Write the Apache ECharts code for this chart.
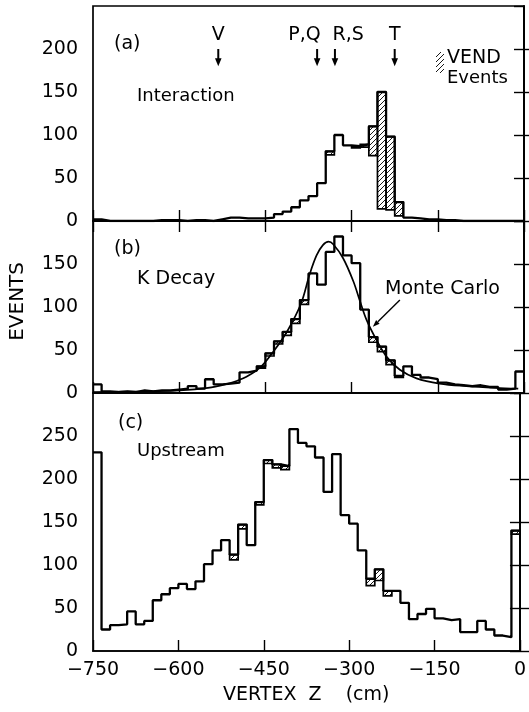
<!DOCTYPE html>
<html>
<head>
<meta charset="utf-8">
<script src="https://cdn.jsdelivr.net/npm/echarts@6/dist/echarts.min.js"></script>
<style>
  html, body { margin: 0; padding: 0; background: #fff; }
  #chart { width: 529px; height: 712px; }
</style>
</head>
<body>
<div id="chart"></div>
<script>
// Vertex-z histograms: 50 bins of 15 cm from -750 cm to 0 cm
const binStart = -750;
const binWidth = 15;

// (a) Interaction: all events and the VEND share stacked on top of each bin
const interactionTotal = [2, 0, 0, 0, 0, 0, 0, 1, 1, 1, 0, 1, 1, 0, 2, 4, 4, 3, 3, 3,
  4, 8, 11, 16, 24, 29, 44, 81, 100, 88, 87, 89, 110, 150, 98, 22, 4, 3, 2, 2,
  1, 1, 0, 0, 0, 0, 0, 0, 0, 0];
const interactionVend = [0, 0, 0, 0, 0, 0, 0, 0, 0, 0, 0, 0, 0, 0, 0, 0, 0, 0, 0, 0,
  0, 0, 0, 0, 0, 0, 0, 4, 0, 0, 2, 3, 34, 136, 85, 16, 0, 0, 0, 0,
  0, 0, 0, 0, 0, 0, 0, 0, 0, 0];

// (b) K decay
const kDecayTotal = [10, 2, 1, 2, 1, 3, 2, 3, 3, 4, 5, 8, 5, 16, 10, 11, 12, 24, 26, 31,
  46, 60, 71, 86, 108, 139, 126, 164, 182, 160, 151, 97, 65, 54, 38, 20, 31, 21, 18, 16,
  12, 10, 9, 8, 9, 7, 7, 4, 5, 25];
const kDecayVend = [0, 0, 0, 0, 0, 0, 0, 0, 0, 0, 0, 0, 0, 0, 0, 0, 0, 0, 0, 2,
  3, 3, 4, 5, 5, 0, 0, 0, 0, 0, 0, 0, 6, 6, 5, 2, 0, 0, 0, 0,
  0, 0, 0, 0, 0, 0, 0, 0, 0, 0];

// Monte Carlo expectation for K decay
const mcZ = [-750, -700, -650, -600, -550, -520, -500, -480, -457, -434, -411, -388, -373, -361,
  -350, -340, -332, -315, -297, -286, -274, -257, -239, -216, -187, -147, -100, -50, -10];
const mcN = [1, 1.5, 2, 3, 6, 10, 14, 20, 31, 50, 73, 104, 138, 160,
  172, 176, 173, 157, 130, 108, 85, 62, 42, 27, 17, 11, 8, 6, 5];

// (c) Upstream
const upstreamTotal = [231, 25, 30, 31, 46, 31, 35, 59, 66, 73, 78, 72, 81, 101, 117, 129, 112, 147, 123, 173,
  222, 217, 215, 258, 242, 238, 225, 185, 229, 158, 148, 117, 84, 95, 70, 70, 56, 37, 43, 49,
  38, 36, 37, 22, 22, 35, 25, 18, 16, 140];
const upstreamVend = [0, 0, 0, 0, 0, 0, 0, 0, 0, 0, 0, 0, 0, 0, 0, 0, 6, 5, 0, 3,
  4, 4, 4, 0, 0, 0, 0, 0, 0, 0, 0, 0, 8, 13, 6, 0, 0, 0, 0, 0,
  0, 0, 0, 0, 0, 0, 0, 0, 0, 4];

// Target positions marked in panel (a)
const markerNames = ['V', 'P,Q', 'R,S', 'T'];
const markerZ = [-532, -360, -329, -225];
const markerLabelZ = [-532, -382, -306, -225];

// Axis ranges / ticks
const zTicks = [-750, -600, -450, -300, -150, 0];
const panelMax = [250, 200, 300];
const countStep = 50;

const FONT = 'DejaVu Sans';

function makeHatch() {
  const c = document.createElement('canvas');
  c.width = 5; c.height = 5;
  const g = c.getContext('2d');
  g.strokeStyle = '#000';
  g.lineWidth = 0.9;
  g.beginPath();
  g.moveTo(0, 5); g.lineTo(5, 0);
  g.moveTo(-1, 1); g.lineTo(1, -1);
  g.moveTo(4, 6); g.lineTo(6, 4);
  g.stroke();
  return c;
}
const hatch = { image: makeHatch(), repeat: 'repeat' };

function stepData(totals) {
  const d = totals.map((v, i) => [binStart + i * binWidth, v]);
  d.push([binStart + totals.length * binWidth, totals[totals.length - 1]]);
  return d;
}
function vendBoxes(totals, vend) {
  const out = [];
  totals.forEach((t, i) => {
    if (vend[i] > 0) out.push([binStart + i * binWidth, binStart + (i + 1) * binWidth, t - vend[i], t]);
  });
  return out;
}

const grids = [
  { left: 93, right: 5, top: 6, height: 215 },
  { left: 93, right: 5, top: 221, height: 172 },
  { left: 93, right: 5, top: 393, height: 258 }
];

const axisLineStyle = { color: '#000', width: 1.7 };

function xAxisFor(gi, withLabels) {
  return {
    type: 'value', gridIndex: gi, min: zTicks[0], max: zTicks[zTicks.length - 1], interval: 150,
    axisLine: { show: true, lineStyle: axisLineStyle },
    axisTick: { show: true, inside: true, length: 11, lineStyle: { color: '#000', width: 1.4 } },
    splitLine: { show: false },
    axisLabel: {
      show: withLabels, color: '#000', fontFamily: FONT, fontSize: 19, margin: 10,
      formatter: v => (v < 0 ? '\u2212' + Math.abs(v) : String(v))
    }
  };
}
function yAxisFor(gi, side) {
  return {
    type: 'value', gridIndex: gi, position: side, min: 0, max: panelMax[gi], interval: countStep,
    axisLine: { show: true, lineStyle: axisLineStyle },
    axisTick: { show: true, inside: true, length: 10, lineStyle: { color: '#000', width: 1.4 } },
    splitLine: { show: false },
    axisLabel: {
      show: side === 'left', color: '#000', fontFamily: FONT, fontSize: 19, margin: 15,
      showMaxLabel: false
    }
  };
}

const xAxes = [xAxisFor(0, false), xAxisFor(1, false), xAxisFor(2, true)];
const topAxis = xAxisFor(0, false);
topAxis.position = 'top';
xAxes.push(topAxis);

const yAxes = [];
[0, 1, 2].forEach(gi => { yAxes.push(yAxisFor(gi, 'left')); yAxes.push(yAxisFor(gi, 'right')); });

function vendSeries(gi, totals, vend) {
  return {
    type: 'custom', xAxisIndex: gi, yAxisIndex: gi * 2, z: 2,
    data: vendBoxes(totals, vend),
    renderItem(params, api) {
      const a = api.coord([api.value(0), api.value(3)]);
      const b = api.coord([api.value(1), api.value(2)]);
      return {
        type: 'rect',
        shape: { x: a[0], y: a[1], width: b[0] - a[0], height: b[1] - a[1] },
        style: { fill: hatch, stroke: '#000', lineWidth: 1.7 }
      };
    }
  };
}
function histSeries(gi, totals) {
  return {
    type: 'line', xAxisIndex: gi, yAxisIndex: gi * 2, z: 3,
    step: 'end', symbol: 'none', data: stepData(totals),
    lineStyle: { color: '#000', width: 2.3 }
  };
}

const arrowTopN = 200, arrowTipN = 180, markerTextN = 216;

const series = [
  vendSeries(0, interactionTotal, interactionVend),
  histSeries(0, interactionTotal),
  {
    type: 'custom', xAxisIndex: 0, yAxisIndex: 0, z: 4,
    data: markerZ.map((z, i) => [z, markerLabelZ[i], i]),
    renderItem(params, api) {
      const z = api.value(0);
      const top = api.coord([z, arrowTopN]);
      const tip = api.coord([z, arrowTipN]);
      const lab = api.coord([api.value(1), markerTextN]);
      return {
        type: 'group',
        children: [
          { type: 'line', shape: { x1: top[0], y1: top[1], x2: tip[0], y2: tip[1] - 6 },
            style: { stroke: '#000', lineWidth: 2 } },
          { type: 'polygon', shape: { points: [[tip[0] - 3.3, tip[1] - 8], [tip[0] + 3.3, tip[1] - 8], [tip[0], tip[1]]] },
            style: { fill: '#000' } },
          { type: 'text', x: lab[0], y: lab[1],
            style: { text: markerNames[api.value(2)], fill: '#000', font: '19px "' + FONT + '"',
                     align: 'center', verticalAlign: 'middle' } }
        ]
      };
    }
  },
  vendSeries(1, kDecayTotal, kDecayVend),
  histSeries(1, kDecayTotal),
  {
    type: 'line', xAxisIndex: 1, yAxisIndex: 2, z: 4, smooth: 0.35, symbol: 'none',
    data: mcZ.map((z, i) => [z, mcN[i]]),
    lineStyle: { color: '#000', width: 1.7 }
  },
  {
    // pointer from the "Monte Carlo" caption to the curve
    type: 'custom', xAxisIndex: 1, yAxisIndex: 2, z: 4,
    data: [[-216, 108, -263, 77]],
    renderItem(params, api) {
      const a = api.coord([api.value(0), api.value(1)]);
      const b = api.coord([api.value(2), api.value(3)]);
      const ang = Math.atan2(b[1] - a[1], b[0] - a[0]);
      const L = 7, W = 2.5;
      const bx = b[0] - L * Math.cos(ang), by = b[1] - L * Math.sin(ang);
      return {
        type: 'group',
        children: [
          { type: 'line', shape: { x1: a[0], y1: a[1], x2: bx, y2: by }, style: { stroke: '#000', lineWidth: 1.4 } },
          { type: 'polygon', shape: { points: [
              [b[0], b[1]],
              [bx + W * Math.sin(ang), by - W * Math.cos(ang)],
              [bx - W * Math.sin(ang), by + W * Math.cos(ang)]] },
            style: { fill: '#000' } }
        ]
      };
    }
  },
  vendSeries(2, upstreamTotal, upstreamVend),
  histSeries(2, upstreamTotal)
];

function label(text, left, top, size) {
  return { type: 'text', left: left, top: top, z: 10,
    style: { text: text, fill: '#000', font: (size || 18) + 'px "' + FONT + '"' } };
}

const chart = echarts.init(document.getElementById('chart'), null, { renderer: 'canvas' });
chart.setOption({
  animation: false,
  backgroundColor: '#fff',
  grid: grids.map(g => Object.assign({ show: true, borderColor: '#000', borderWidth: 1.7, backgroundColor: 'transparent' }, g)),
  xAxis: xAxes,
  yAxis: yAxes,
  series: series,
  graphic: [
    label('(a)', 114, 35, 19),
    label('Interaction', 137, 87, 18),
    { type: 'rect', left: 436, top: 52, z: 10, shape: { width: 8, height: 21 }, style: { fill: hatch } },
    label('VEND', 447, 49, 19),
    label('Events', 447, 69, 18),
    label('(b)', 114, 240, 19),
    label('K Decay', 137, 270, 19),
    label('Monte Carlo', 385, 280, 19),
    label('(c)', 118, 414, 19),
    label('Upstream', 137, 442, 18),
    label('VERTEX\u00a0\u00a0Z\u00a0\u00a0\u00a0\u00a0(cm)', 223, 686, 19),
    { type: 'text', left: 8, top: 262, z: 10, rotation: Math.PI / 2,
      style: { text: 'EVENTS', fill: '#000', font: '20px "' + FONT + '"' } }
  ]
});
</script>
</body>
</html>
